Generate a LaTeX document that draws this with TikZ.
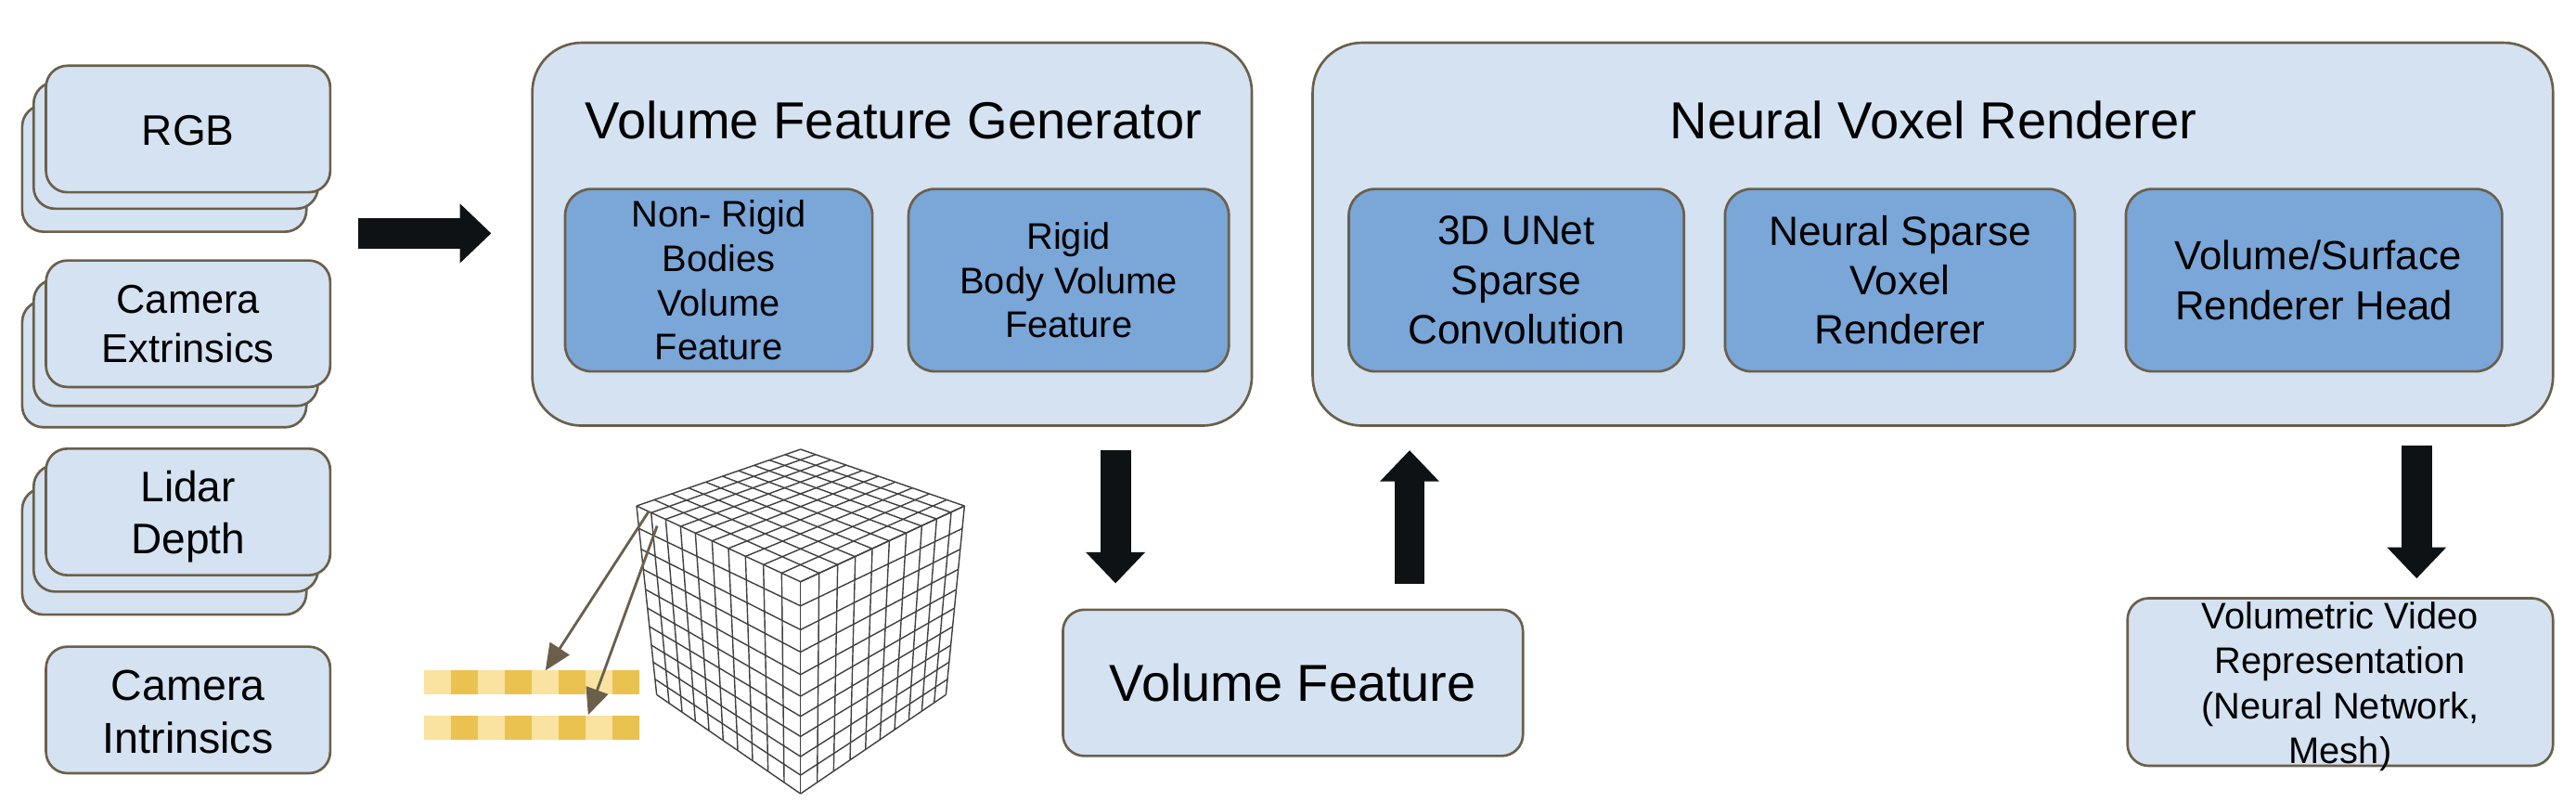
\documentclass[tikz,border=0pt]{standalone}
\usepackage{fontspec}
\setmainfont{Liberation Sans}
\usetikzlibrary{arrows.meta}
\definecolor{boxfill}{HTML}{D4E2F1}
\definecolor{innerfill}{HTML}{7AA6D8}
\definecolor{edgecol}{HTML}{6B5F4B}
\definecolor{blockcol}{HTML}{0F1215}
\definecolor{paleY}{HTML}{FAE3A0}
\definecolor{darkY}{HTML}{EAC24F}
\definecolor{gridcol}{HTML}{404040}
\newcommand{\tsize}[2]{\fontsize{#1}{#2}\selectfont}
\tikzset{
  basebox/.style={draw=edgecol,line width=1.5pt,inner sep=0pt,align=center,text=black},
  lightbox/.style={basebox,fill=boxfill,rounded corners=13pt},
  bigbox/.style={basebox,fill=boxfill,rounded corners=30pt},
  innerbox/.style={basebox,fill=innerfill,rounded corners=16pt,minimum height=111pt},
  stackbox/.style={lightbox,minimum width=173pt,minimum height=77pt},
  title/.style={inner sep=0pt,align=center,text=black},
  blockarrow/.style={blockcol,line width=18.5pt,-{Triangle[length=19pt,width=35pt]}},
  thinarrow/.style={edgecol,line width=1.6pt,-{Triangle[length=16pt,width=14pt]}},
  gridline/.style={gridcol,line width=0.8pt},
  cell/.style={inner sep=0pt,minimum width=16.4pt,minimum height=14.5pt,draw=none}
}
\begin{document}
\begin{tikzpicture}[x=1pt,y=-1pt]
\useasboundingbox (0,0) rectangle (1568,488);
% input stacks
\node[stackbox] (rgbC) at (100,102.5) {};
\node[stackbox] (rgbB) at (107,88.5) {};
\node[stackbox,font=\tsize{26}{30}] (rgb) at (114.5,78.5) {\rule{0pt}{20.6pt}RGB};
\node[stackbox] (extC) at (100,221.5) {};
\node[stackbox] (extB) at (107,208.5) {};
\node[stackbox,font=\tsize{24.5}{30}] (ext) at (114.5,197) {Camera\\Extrinsics};
\node[stackbox] (lidC) at (100,335.5) {};
\node[stackbox] (lidB) at (107,321.5) {};
\node[stackbox,font=\tsize{26}{32}] (lid) at (114.5,311.5) {\rule{0pt}{24.5pt}Lidar\\Depth};
\node[stackbox,font=\tsize{26.3}{32}] (intr) at (114.5,432) {\rule{0pt}{21pt}Camera\\Intrinsics};
% main blocks
\node[bigbox,minimum width=438pt,minimum height=233pt] (vfg) at (543,142.5) {};
\node[title,font=\tsize{31.7}{36}] (vfgT) at (544,73) {Volume Feature Generator};
\node[innerbox,minimum width=187pt,font=\tsize{22.5}{27}] (nonrigid) at (437.5,170.5) {Non- Rigid\\Bodies\\Volume\\Feature};
\node[innerbox,minimum width=195pt,font=\tsize{22.5}{27}] (rigid) at (650.5,170.5) {Rigid\\Body Volume\\Feature};
\node[bigbox,minimum width=755pt,minimum height=233pt] (nvr) at (1176.5,142.5) {};
\node[title,font=\tsize{31.7}{36}] (nvrT) at (1177,73) {Neural Voxel Renderer};
\node[innerbox,minimum width=204pt,font=\tsize{25}{30}] (unet) at (923,170.5) {3D UNet\\Sparse\\Convolution};
\node[innerbox,minimum width=213pt,font=\tsize{25}{30}] (sparse) at (1156.5,170.5) {Neural Sparse\\Voxel\\Renderer};
\node[innerbox,minimum width=229pt,font=\tsize{24.7}{30}] (head) at (1408.5,170.5) {\hspace*{5pt}Volume/Surface\\Renderer Head};
\node[lightbox,minimum width=280pt,minimum height=89pt,font=\tsize{31.6}{38}] (vf) at (787,415.5) {Volume Feature};
\node[lightbox,minimum width=259pt,minimum height=102pt] (vv) at (1424.5,415) {};
\node[title,font=\tsize{22.5}{27.4}] (vvT) at (1424.5,417.8) {Volumetric Video\\Representation\\(Neural Network,\\Mesh)};
% block arrows
\coordinate (a1s) at (218,142); \coordinate (a1e) at (299,142);
\coordinate (a2s) at (679,274); \coordinate (a2e) at (679,355);
\coordinate (a3s) at (858,355); \coordinate (a3e) at (858,274);
\coordinate (a4s) at (1471,271); \coordinate (a4e) at (1471,352);
\draw[blockarrow] (a1s) -- (a1e);
\draw[blockarrow] (a2s) -- (a2e);
\draw[blockarrow] (a3s) -- (a3e);
\draw[blockarrow] (a4s) -- (a4e);
% strips
\foreach \r in {415.25,442.75}{
  \foreach \i/\c in {0/paleY,1/darkY,2/paleY,3/darkY,4/paleY,5/darkY,6/paleY,7/darkY}{
    \node[cell,fill=\c] at ({258+8.2+16.4*\i},\r) {};
  }
}
% cube
\begin{scope}[shift={(372.8,265.5)},x=0.18829pt,y=-0.18829pt]
  % left face: rows
  \foreach \xa/\ya/\yb in {78/225/470,86/298/548,93/365/625,100/430/697,107/495/770,113/555/840,120/615/905,126/675/970,132/730/1035,138/785/1095,143/835/1155}{
    \draw[gridline] (\xa,\ya) -- (608,\yb);
  }
  % right face: rows
  \foreach \xa/\ya/\yb in {1138/225/470,1131/298/548,1124/365/625,1118/430/697,1112/495/770,1106/555/840,1100/615/905,1094/675/970,1088/730/1035,1083/785/1095,1078/835/1155}{
    \draw[gridline] (\xa,\ya) -- (608,\yb);
  }
  % verticals
  \foreach \xa/\ya/\xb/\yb in {78/225/143/835,125/247/183/863,172/268/225/891,220/291/268/921,268/313/312/951,322/338/358/983,375/362/405/1015,430/388/453/1048,488/415/503/1083,547/442/555/1119,608/470/608/1155,
    668/442/662/1118,728/415/715/1082,785/389/768/1046,840/363/818/1012,895/338/865/980,950/313/912/948,1000/290/958/917,1048/267/1000/888,1095/246/1040/861,1138/225/1078/835}{
    \draw[gridline] (\xa,\ya) -- (\xb,\yb);
  }
  % top face
  \foreach \xa/\ya/\xb/\yb in {78/225/608/42,125/247/656/59,172/268/706/76,220/291/756/93,268/313/807/111,322/338/860/129,375/362/914/148,430/388/969/167,488/415/1024/186,547/442/1081/205,608/470/1138/225,
    135/205/668/442,192/186/728/415,247/167/785/389,302/148/840/363,356/129/895/338,407/111/950/313,458/94/1000/290,508/77/1048/267,558/59/1095/246,608/42/1138/225}{
    \draw[gridline] (\xa,\ya) -- (\xb,\yb);
  }
\end{scope}
% thin arrows
\coordinate (t1s) at (395,311); \coordinate (t1e) at (332,408);
\coordinate (t2s) at (400,320); \coordinate (t2e) at (358,435);
\draw[thinarrow] (t1s) -- (t1e);
\draw[thinarrow] (t2s) -- (t2e);
\end{tikzpicture}
\end{document}
